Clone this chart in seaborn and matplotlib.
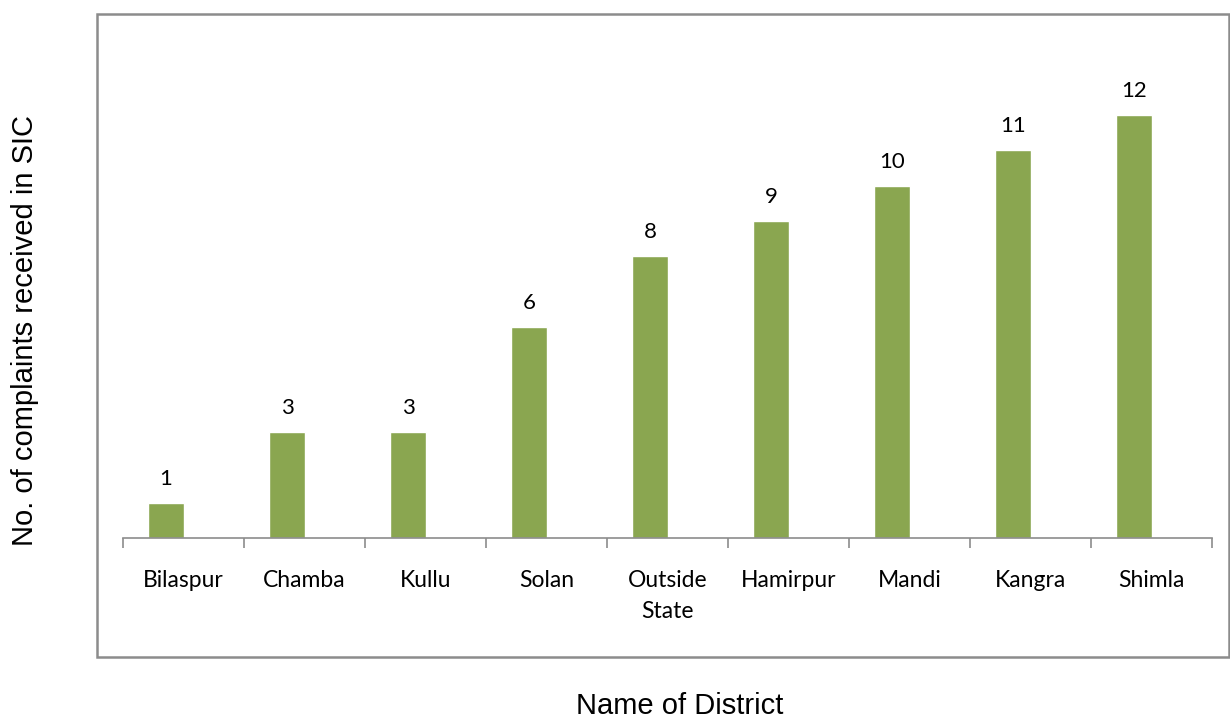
import numpy as np
import pandas as pd
import matplotlib
matplotlib.use("Agg")
import matplotlib.pyplot as plt
import seaborn as sns
from matplotlib.patches import Rectangle

# data
districts = ["Bilaspur", "Chamba", "Kullu", "Solan", "Outside\nState",
             "Hamirpur", "Mandi", "Kangra", "Shimla"]
complaints = [1, 3, 3, 6, 8, 9, 10, 11, 12]

df = pd.DataFrame({"District": districts, "Complaints": complaints,
                   "Series": "Complaints"})

sns.set_style("white")
fig = plt.figure(figsize=(12.3, 7.18), dpi=100)
ax = fig.add_axes([123 / 1230, 180 / 718, (1212 - 123) / 1230, 493.5 / 718])

# second (empty) series keeps the bars off-centre like the original
sns.barplot(data=df, x="District", y="Complaints", hue="Series",
            hue_order=["Complaints", "blank"], palette=["#8aa650", "#ffffff"],
            saturation=1, width=0.58, dodge=True, legend=False, ax=ax)

for p, v in zip(ax.patches, complaints):
    ax.annotate(str(v), (p.get_x() + p.get_width() / 2, p.get_height()),
                xytext=(0, 10), textcoords="offset points", ha="center",
                va="bottom", fontsize=16, family="Lato", color="black")

ax.set_xlim(-0.5, len(districts) - 0.5)
ax.set_ylim(0, 14)
ax.set_yticks([])
for s in ["top", "right", "left"]:
    ax.spines[s].set_visible(False)
ax.spines["bottom"].set_color("#8c8c8c")
ax.spines["bottom"].set_linewidth(1.2)

ax.set_xticks(range(len(districts)))
ax.set_xticklabels(districts, family="Lato", fontsize=16.5, linespacing=1.6,
                   color="black")
ax.set_xticks(np.arange(-0.5, len(districts), 1), minor=True)
ax.tick_params(axis="x", which="major", length=0, pad=23)
ax.tick_params(axis="x", which="minor", length=7, width=1.2, color="#8c8c8c",
               direction="out", bottom=True)
for lbl in ax.get_xticklabels():
    lbl.set_verticalalignment("top")

ax.set_xlabel("")
ax.set_ylabel("")
fig.text(680 / 1230, 1 - 706 / 718, "Name of District", ha="center",
         va="center", fontsize=21, family="Liberation Sans", color="black")
fig.text(25 / 1230, 1 - 330 / 718, "No. of complaints received in SIC",
         ha="center", va="center", rotation=90, fontsize=21,
         family="Liberation Sans", color="black")

# outer plot-area box
fig.patches.append(Rectangle((97 / 1230, 1 - 657 / 718), (1229 - 97) / 1230,
                             (657 - 14) / 718, transform=fig.transFigure,
                             fill=False, edgecolor="#8c8c8c", linewidth=1.8))

fig.savefig("out.png", dpi=100)
